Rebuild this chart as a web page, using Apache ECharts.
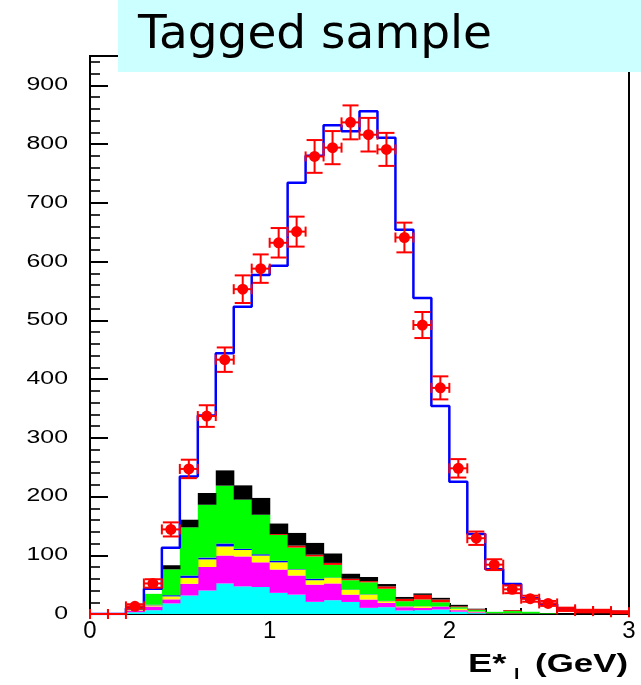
<!DOCTYPE html>
<html><head><meta charset="utf-8">
<script src="https://cdn.jsdelivr.net/npm/echarts@6/dist/echarts.min.js"></script>
<style>html,body{margin:0;padding:0;background:#fff}#c{width:641px;height:685px}</style>
</head><body><div id="c"></div>
<script>
// ---- data (bins of 0.1 GeV, centres) ----
const binCenters = [0.05,0.15,0.25,0.35,0.45,0.55,0.65,0.75,0.85,0.95,1.05,1.15,1.25,1.35,1.45,1.55,1.65,1.75,1.85,1.95,2.05,2.15,2.25,2.35,2.45,2.55,2.65,2.75,2.85,2.95];
const binHalfWidth = 0.05;
const dataCounts = [0,0,13,52,144,247,337,433,553,588,632,651,779,794,837,816,791,641,492,385,248,129,84,42,26,18,8,5,5,3];
const dataErrors = [0,0,3.6,7.2,12,15.7,18.4,20.8,23.5,24.2,25.1,25.5,27.9,28.2,28.9,28.6,28.1,25.3,22.2,19.6,15.7,11.4,9.2,6.5,5.1,4.2,2.8,2.2,2.2,1.7];
const mcTotal = [0,0,10,43,113,234,338,444,523,577,593,734,780,832,822,856,811,654,538,354,225,136,76,51,27,17,9,5,4,3];
// background components, bottom to top
const bgCyan    = [0,0,3,6.5,18,31.5,40,52,47,46,36,33,20.7,23.5,20.5,10.5,11.6,6,6.5,7.6,4,1.5,0.5,0.5,0.3,0,0,0,0,0];
const bgMagenta = [0,0,3,6.3,7,20,40,47.5,51,42,39.7,32.5,29.3,28.5,12.5,14.2,7.4,5.6,4,4.5,2.5,1.5,0.5,0.5,0.3,0,0,0,0,0];
const bgYellow  = [0,0,1,2,5,10,13,15.5,11,11.5,12.3,10.2,7.5,9.5,8,8.3,2.8,1.4,2.5,0.5,2.3,1,0.3,0.5,0.2,0,0,0,0,0];
const bgBlue    = [0,0,0.5,1,2,4,3,5,2,2.2,2.5,0.8,2.5,0.5,0.5,0.5,0.5,0.5,0.3,0.4,0.3,0.3,0,0,0,0,0,0,0,0];
const bgGreen   = [0,0,3,18.5,44,82,90,98.5,83.7,67.3,44,36.5,38,21.6,16,20.5,20.7,8.3,11.4,7,2.5,2.7,2.4,3.5,3,1,0,0,0,0];
const bgRed     = [0,0,0,0,0,0,0,0,0,0,1.5,3.5,3,3.4,2.5,2,4,4,7.9,4.7,1.4,1,0,1.5,0,0,0,0,0,0];
const bgBlack   = [0,0,0,0,7,13,20,26,24.3,28.6,18,21.5,20,16,8.5,7,4,3.2,2.4,2.8,2.6,1,0,0.3,0,0,0,0,0,0];
const xTickLabels = ['0','1','2','3'];
const yTickValues = [0,100,200,300,400,500,600,700,800,900];
const yTickLabels = ['0','100','200','300','400','500','600','700','800','900'];

const layers = [
  {v: bgCyan, c: '#00ffff'},
  {v: bgMagenta, c: '#ff00ff'},
  {v: bgYellow, c: '#ffff00'},
  {v: bgBlue, c: '#0000ff'},
  {v: bgGreen, c: '#00ff00'},
  {v: bgRed, c: '#ff0000'},
  {v: bgBlack, c: '#000000'}
];

const cum = binCenters.map(() => 0);
const stackSeries = layers.map((L, li) => {
  const items = binCenters.map((c, i) => {
    const b = cum[i]; const t = b + L.v[i]; cum[i] = t;
    return [c - binHalfWidth, c + binHalfWidth, b, t];
  });
  return {
    type: 'custom', name: 'bg' + li, data: items, clip: true, silent: true, z: 2,
    encode: {x: [0, 1], y: [2, 3]},
    renderItem: function (params, api) {
      const b = api.value(2), t = api.value(3);
      if (t - b <= 0) return null;
      const p0 = api.coord([api.value(0), t]);
      const p1 = api.coord([api.value(1), b]);
      return {type: 'rect', shape: {x: p0[0], y: p0[1], width: p1[0] - p0[0] + 0.6, height: p1[1] - p0[1]},
        style: {fill: L.c}};
    }
  };
});

const mcLine = binCenters.map((c, i) => [c - binHalfWidth, mcTotal[i]]);
mcLine.push([binCenters[binCenters.length - 1] + binHalfWidth, mcTotal[mcTotal.length - 1]]);

const pts = binCenters.map((c, i) => [c, dataCounts[i], dataErrors[i]]);

const chart = echarts.init(document.getElementById('c'), null, {renderer: 'canvas'});
const axisBlack = {color: '#000', width: 2};
const baseGraphic = [
  {type: 'rect', z: 100, shape: {x: 118, y: 0, width: 523, height: 72}, style: {fill: '#ccffff'}},
  {type: 'text', z: 101, x: 138, y: 36, style: {text: 'Tagged sample', fill: '#000', font: '47px "DejaVu Sans"', verticalAlign: 'middle'}},
  {type: 'text', z: 101, x: 468, y: 665, scaleX: 1.4, style: {text: 'E*', fill: '#000', font: 'bold 26px "Liberation Sans"', verticalAlign: 'middle'}},
  {type: 'text', z: 101, x: 514, y: 675, scaleX: 1.3, style: {text: 'l', fill: '#000', font: 'bold 15px "Liberation Sans"', verticalAlign: 'middle'}},
  {type: 'text', z: 101, x: 628, y: 665, scaleX: 1.34, style: {text: '(GeV)', fill: '#000', font: 'bold 26px "Liberation Sans"', align: 'right', verticalAlign: 'middle'}}
];
chart.setOption({
  animation: false,
  backgroundColor: '#fff',
  grid: {left: 90, right: 12, top: 56, bottom: 71, show: true, borderColor: '#000', borderWidth: 2, backgroundColor: 'transparent'},
  xAxis: {
    type: 'value', min: 0, max: 3, interval: 1,
    axisLine: {show: true, onZero: false, lineStyle: axisBlack},
    axisTick: {show: true, inside: true, length: 11, lineStyle: axisBlack},
    minorTick: {show: true, splitNumber: 5, length: 6, lineStyle: axisBlack},
    splitLine: {show: false}, minorSplitLine: {show: false},
    axisLabel: {color: '#000', fontSize: 24, fontFamily: 'Liberation Sans', margin: 5,
      formatter: function (v) { return xTickLabels[Math.round(v)]; }}
  },
  yAxis: [{
    type: 'value', position: 'left', min: 0, max: 950, interval: 100,
    axisLine: {show: true, onZero: false, lineStyle: axisBlack},
    axisTick: {show: true, inside: true, length: 18, lineStyle: axisBlack},
    splitLine: {show: false},
    axisLabel: {show: false}
  }, {
    type: 'value', position: 'left', min: 0, max: 950, interval: 20,
    axisLine: {show: false},
    axisTick: {show: true, inside: true, length: 10, lineStyle: {color: '#000', width: 1.6}},
    splitLine: {show: false},
    axisLabel: {show: false}
  }],
  series: stackSeries.concat([
    {
      type: 'line', data: mcLine, step: 'end', symbol: 'none', z: 3, silent: true,
      lineStyle: {color: '#0000ff', width: 2.5}
    },
    {
      type: 'custom', data: pts, z: 4, silent: true, clip: false,
      encode: {x: 0, y: 1},
      renderItem: function (params, api) {
        const x = api.value(0), y = api.value(1), e = api.value(2);
        const pc = api.coord([x, y]);
        const pl = api.coord([x - binHalfWidth, y]);
        const pr = api.coord([x + binHalfWidth, y]);
        const st = {stroke: '#ff0000', lineWidth: 2};
        const ch = [
          {type: 'line', shape: {x1: pl[0], y1: pc[1], x2: pr[0], y2: pc[1]}, style: st},
          {type: 'line', shape: {x1: pl[0], y1: pc[1] - 5, x2: pl[0], y2: pc[1] + 5}, style: st},
          {type: 'line', shape: {x1: pr[0], y1: pc[1] - 5, x2: pr[0], y2: pc[1] + 5}, style: st}
        ];
        if (y > 0) {
          const pt = api.coord([x, y + e]);
          const pb = api.coord([x, y - e]);
          ch.push({type: 'line', shape: {x1: pc[0], y1: pt[1], x2: pc[0], y2: pb[1]}, style: st});
          ch.push({type: 'line', shape: {x1: pc[0] - 8, y1: pt[1], x2: pc[0] + 8, y2: pt[1]}, style: st});
          ch.push({type: 'line', shape: {x1: pc[0] - 8, y1: pb[1], x2: pc[0] + 8, y2: pb[1]}, style: st});
          if (y >= 10) ch.push({type: 'circle', shape: {cx: pc[0], cy: pc[1], r: 5.5}, style: {fill: '#ff0000'}});
        }
        return {type: 'group', children: ch};
      }
    }
  ]),
  graphic: baseGraphic
});
// y tick labels, placed through the y axis scale
const yLabelGraphic = yTickValues.map((v, i) => ({
  type: 'text', z: 50, x: 68, y: chart.convertToPixel({yAxisIndex: 0}, v), scaleX: 1.38,
  style: {text: yTickLabels[i], fill: '#000', font: '18px "Liberation Sans"', align: 'right', verticalAlign: 'middle'}
}));
chart.setOption({graphic: baseGraphic.concat(yLabelGraphic)});
</script>
</body></html>
